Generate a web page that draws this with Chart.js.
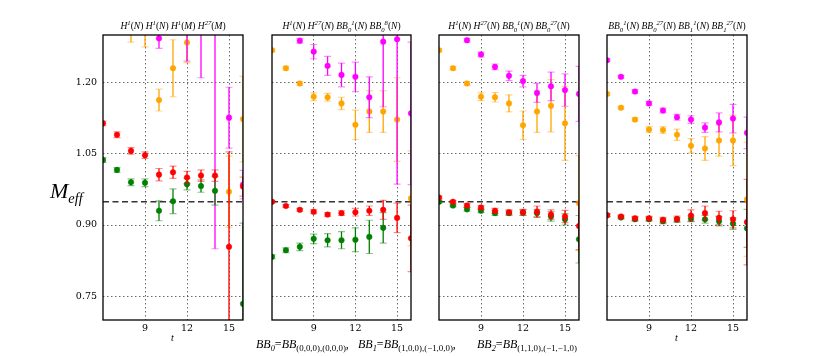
<!DOCTYPE html>
<html><head><meta charset="utf-8">
<script src="https://cdn.jsdelivr.net/npm/chart.js@4.4.0/dist/chart.umd.min.js"></script>
<style>
html,body{margin:0;padding:0;background:#fff;}
#wrap{position:relative;width:830px;height:356px;overflow:hidden;background:#fff;}
canvas{position:absolute;left:0;top:0;}
.tx{position:absolute;white-space:nowrap;font-family:"Liberation Serif","DejaVu Serif",serif;font-style:italic;color:#000;line-height:1;}
.up{font-style:normal;}
sub,sup{font-size:70%;line-height:0;}
</style></head>
<body><div id="wrap">
<canvas id="c0" width="830" height="356"></canvas>
<canvas id="c1" width="830" height="356"></canvas>
<canvas id="c2" width="830" height="356"></canvas>
<canvas id="c3" width="830" height="356"></canvas>
</div>
<script>
// ---- data ----
const tValues = [6,7,8,9,10,11,12,13,14,15,16];
const xTicks = [9,12,15];
const yTicks = [0.75,0.90,1.05,1.20];
const refLevel = 0.949;

// panel 1
const red1 = [1.114,1.090,1.056,1.047,1.006,1.011,1.000,1.004,1.004,0.854,0.981];
const red1Err = [0.005,0.006,0.007,0.007,0.013,0.013,0.013,0.012,0.012,0.200,0.020];
const green1 = [1.037,1.016,0.990,0.989,0.930,0.950,0.986,0.982,0.972,null,0.734];
const green1Err = [0.005,0.005,0.007,0.008,0.021,0.026,0.012,0.013,0.030,null,0.170];
const orange1 = [null,null,1.310,1.320,1.163,1.230,1.284,null,null,0.970,1.123];
const orange1Err = [null,null,0.025,0.045,0.023,0.060,0.042,null,null,0.075,0.090];
const magenta1 = [null,null,null,null,1.293,null,1.330,1.370,1.350,1.126,0.985];
const magenta1Err = [null,null,null,null,0.021,null,0.085,0.160,0.500,0.064,0.030];
// panel 2
const red2 = [0.949,0.940,0.932,0.928,0.922,0.925,0.927,0.930,0.932,0.915,0.872];
const red2Err = [0.003,0.003,0.003,0.004,0.004,0.005,0.008,0.010,0.020,0.031,0.070];
const green2 = [0.833,0.847,0.854,0.871,0.868,0.868,0.869,0.875,0.894,null,null];
const green2Err = [0.004,0.005,0.008,0.010,0.014,0.018,0.025,0.035,0.032,null,null];
const orange2 = [1.268,1.230,1.198,1.170,1.169,1.156,1.111,1.139,1.139,1.122,0.956];
const orange2Err = [0.003,0.004,0.004,0.008,0.008,0.013,0.031,0.044,0.044,0.088,0.100];
const magenta2 = [null,null,1.288,1.265,1.235,1.216,1.212,1.169,1.286,1.291,1.135];
const magenta2Err = [null,null,0.005,0.015,0.020,0.025,0.031,0.043,0.137,0.305,0.150];
// panel 3
const red3 = [0.958,0.949,0.941,0.937,0.930,0.927,0.927,0.928,0.922,0.918,0.898];
const red3Err = [0.003,0.003,0.004,0.004,0.005,0.005,0.006,0.012,0.010,0.013,0.050];
const green3 = [0.949,0.941,0.933,0.930,0.925,0.925,0.926,0.925,0.918,0.912,0.870];
const green3Err = [0.003,0.003,0.004,0.004,0.005,0.005,0.006,0.008,0.010,0.012,0.050];
const orange3 = [1.268,1.230,1.198,1.170,1.169,1.156,1.110,1.139,1.151,1.114,0.946];
const orange3Err = [0.003,0.004,0.004,0.008,0.010,0.018,0.030,0.044,0.055,0.078,0.100];
const magenta3 = [null,null,1.289,1.259,1.233,1.214,1.203,1.178,1.192,1.184,1.176];
const magenta3Err = [null,null,0.004,0.005,0.006,0.010,0.012,0.020,0.030,0.034,0.058];
// panel 4
const red4 = [0.921,0.918,0.914,0.914,0.911,0.913,0.920,0.925,0.915,0.912,0.906];
const red4Err = [0.003,0.003,0.004,0.004,0.005,0.006,0.012,0.015,0.014,0.018,0.090];
const green4 = [0.920,0.916,0.912,0.912,0.908,0.911,0.913,0.912,0.908,0.903,0.893];
const green4Err = [0.003,0.003,0.004,0.004,0.005,0.005,0.006,0.008,0.010,0.012,0.040];
const orange4 = [1.176,1.147,1.122,1.101,1.100,1.090,1.067,1.061,1.078,1.078,0.954];
const orange4Err = [0.003,0.003,0.004,0.006,0.007,0.012,0.015,0.025,0.033,0.053,0.120];
const magenta4 = [1.247,1.212,1.181,1.156,1.141,1.127,1.122,1.105,1.116,1.124,1.094];
const magenta4Err = [0.003,0.003,0.004,0.004,0.005,0.006,0.008,0.010,0.020,0.030,0.033];

const P_ = '<span class="up">(</span>', _P = '<span class="up">)</span>';
const panelTitles = [
  'H<sup>1</sup>'+P_+'N'+_P+' H<sup>1</sup>'+P_+'N'+_P+' H<sup>1</sup>'+P_+'M'+_P+' H<sup>27</sup>'+P_+'M'+_P,
  'H<sup>1</sup>'+P_+'N'+_P+' H<sup>27</sup>'+P_+'N'+_P+' BB<sub>0</sub><sup>1</sup>'+P_+'N'+_P+' BB<sub>0</sub><sup>8</sup>'+P_+'N'+_P,
  'H<sup>1</sup>'+P_+'N'+_P+' H<sup>27</sup>'+P_+'N'+_P+' BB<sub>0</sub><sup>1</sup>'+P_+'N'+_P+' BB<sub>0</sub><sup>27</sup>'+P_+'N'+_P,
  'BB<sub>0</sub><sup>1</sup>'+P_+'N'+_P+' BB<sub>0</sub><sup>27</sup>'+P_+'N'+_P+' BB<sub>1</sub><sup>1</sup>'+P_+'N'+_P+' BB<sub>1</sub><sup>27</sup>'+P_+'N'+_P
];

const panels = [
  {red:red1,redE:red1Err,green:green1,greenE:green1Err,orange:orange1,orangeE:orange1Err,magenta:magenta1,magentaE:magenta1Err},
  {red:red2,redE:red2Err,green:green2,greenE:green2Err,orange:orange2,orangeE:orange2Err,magenta:magenta2,magentaE:magenta2Err},
  {red:red3,redE:red3Err,green:green3,greenE:green3Err,orange:orange3,orangeE:orange3Err,magenta:magenta3,magentaE:magenta3Err},
  {red:red4,redE:red4Err,green:green4,greenE:green4Err,orange:orange4,orangeE:orange4Err,magenta:magenta4,magentaE:magenta4Err}
];

// ---- layout ----
const boxes = [{l:103,r:243},{l:272,r:411},{l:439,r:579},{l:607,r:747}];
const TOP = 35, BOTTOM = 320, YW = 40;
const COLORS = {red:'#ff0000',green:'#008000',orange:'#ffa500',magenta:'#ff00ff'};
const ALPHA = {red:'rgba(255,0,0,0.45)',green:'rgba(0,128,0,0.45)',orange:'rgba(255,165,0,0.45)',magenta:'rgba(255,0,255,0.45)'};

const errorBars = {
  id:'errorBars',
  beforeDatasetDraw(chart, args){
    const ds = chart.data.datasets[args.index];
    if(!ds.hasErr) return;
    const ctx = chart.ctx, a = chart.chartArea, ys = chart.scales.y;
    ctx.save();
    ctx.beginPath(); ctx.rect(a.left, a.top, a.right-a.left, a.bottom-a.top); ctx.clip();
    args.meta.data.forEach((el,i)=>{
      const p = ds.data[i];
      if(p.e==null) return;
      const y1 = ys.getPixelForValue(p.y+p.e), y2 = ys.getPixelForValue(p.y-p.e);
      ctx.strokeStyle = ds.borderColorSolid; ctx.lineWidth = 1.3;
      ctx.beginPath(); ctx.moveTo(el.x,y1); ctx.lineTo(el.x,y2); ctx.stroke();
      ctx.strokeStyle = ds.capColor; ctx.lineWidth = 1.2;
      ctx.beginPath();
      ctx.moveTo(el.x-3.5,y1); ctx.lineTo(el.x+3.5,y1);
      ctx.moveTo(el.x-3.5,y2); ctx.lineTo(el.x+3.5,y2);
      ctx.stroke();
    });
    ctx.restore();
  }
};
const frame = {
  id:'frame',
  afterDatasetsDraw(chart){
    const ctx = chart.ctx, a = chart.chartArea;
    ctx.save(); ctx.strokeStyle='#000'; ctx.lineWidth=1.3;
    ctx.strokeRect(a.left, a.top, a.right-a.left, a.bottom-a.top);
    ctx.restore();
  }
};

function series(name, vals, errs, order){
  const data = [];
  tValues.forEach((t,i)=>{ if(vals[i]!=null) data.push({x:t,y:vals[i],e:errs[i]}); });
  return {type:'scatter', label:name, data, hasErr:true, order,
    borderColorSolid:COLORS[name], capColor:ALPHA[name],
    pointRadius:2.8, pointBackgroundColor:COLORS[name], pointBorderColor:ALPHA[name],
    pointBorderWidth:1, clip:0};
}

const wrap = document.getElementById('wrap');
function addText(html, css){ const d=document.createElement('div'); d.className='tx'; d.innerHTML=html; Object.assign(d.style,css); wrap.appendChild(d); return d; }

panels.forEach((P,k)=>{
  const b = boxes[k];
  const datasets = [
    {type:'line', label:'ref', data:[{x:6,y:refLevel},{x:16,y:refLevel}], borderColor:'#333',
     borderWidth:1.5, borderDash:[6,3.5], pointRadius:0, order:10, clip:0},
    series('orange',P.orange,P.orangeE,4),
    series('magenta',P.magenta,P.magentaE,3),
    series('green',P.green,P.greenE,2),
    series('red',P.red,P.redE,1)
  ];
  new Chart(document.getElementById('c'+k),{
    type:'scatter',
    data:{datasets},
    plugins:[errorBars, frame],
    options:{
      responsive:false, animation:false, devicePixelRatio:1,
      layout:{padding:{left:b.l-YW, right:830-b.r, top:TOP, bottom:356-BOTTOM-20}},
      plugins:{legend:{display:false}, tooltip:{enabled:false}, title:{display:false}},
      scales:{
        x:{type:'linear', min:6, max:16,
           afterBuildTicks:ax=>{ax.ticks = xTicks.map(v=>({value:v}));},
           afterFit:s=>{s.height=20;},
           grid:{color:'#444', lineWidth:0.8, drawTicks:false},
           border:{display:false, dash:[1.5,2.5]},
           ticks:{padding:3, color:'#000', font:{family:'"DejaVu Serif", serif', size:9.5}, maxRotation:0}},
        y:{type:'linear', min:0.70, max:1.30,
           afterBuildTicks:ax=>{ax.ticks = yTicks.map(v=>({value:v}));},
           afterFit:s=>{s.width=YW;},
           grid:{color:'#444', lineWidth:0.8, drawTicks:false},
           border:{display:false, dash:[1.5,2.5]},
           ticks:{display:k===0, padding:6, color:'#000', font:{family:'"DejaVu Serif", serif', size:9.5},
                  callback:v=>Number(v).toFixed(2)}}
      }
    }
  });
  addText(panelTitles[k], {fontSize:'9.5px', top:'22px', left:((b.l+b.r)/2)+'px', transform:'translateX(-50%)'});
});

addText('M<sub style="font-size:65%">eff</sub>', {left:'50px', top:'180px', fontSize:'22px'});
addText('t', {left:'171px', top:'333px', fontSize:'10px'});
addText('t', {left:'675px', top:'333px', fontSize:'10px'});
const bsub = 'style="font-size:74%"';
addText('BB<sub>0</sub><span class="up">=</span>BB<sub class="up" '+bsub+'>(0,0,0),(0,0,0)</sub><span class="up">,</span>', {left:'256px', top:'338px', fontSize:'12px'});
addText('BB<sub>1</sub><span class="up">=</span>BB<sub class="up" '+bsub+'>(1,0,0),(−1,0,0)</sub><span class="up">,</span>', {left:'358px', top:'338px', fontSize:'12px'});
addText('BB<sub>2</sub><span class="up">=</span>BB<sub class="up" '+bsub+'>(1,1,0),(−1,−1,0)</sub>', {left:'477px', top:'338px', fontSize:'12px'});
</script>
</body></html>
